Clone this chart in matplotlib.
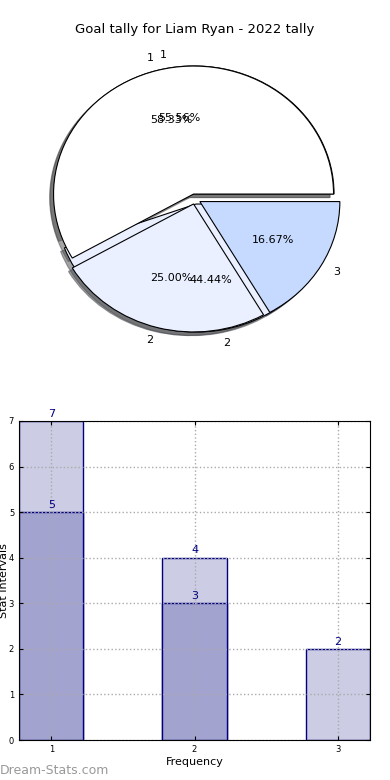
import numpy as np
import matplotlib
matplotlib.use("Agg")
import matplotlib.pyplot as plt

# pie data (two series drawn on the same axes)
pie_labels1 = ['1', '2', '3']
pie_vals1 = [7, 3, 2]
pie_labels2 = ['1', '2']
pie_vals2 = [5, 4]

# bar data
bar_x = [1, 2, 3]
bar_total = [7, 4, 2]
bar_x2 = [1, 2]
bar_part = [5, 3]

fig = plt.figure(figsize=(3.9, 7.8), dpi=100)

# --- pie ---
ax1 = fig.add_axes([20 / 390, 1 - 359 / 780, 350 / 390, 320 / 780])
ax1.pie(pie_vals2, labels=pie_labels2, colors=['white', '#EAF0FF'],
        autopct='%.2f%%', shadow=True, explode=[0.04, 0.04],
        wedgeprops=dict(edgecolor='black', linewidth=0.8),
        textprops=dict(fontsize=8))
ax1.pie(pie_vals1, labels=pie_labels1, colors=['white', '#EAF0FF', '#C6D9FF'],
        autopct='%.2f%%', shadow=True, explode=[0.04, 0.04, 0.04],
        wedgeprops=dict(edgecolor='black', linewidth=0.8),
        textprops=dict(fontsize=8))
ax1.set_aspect('auto')
ax1.set_xlim(-1.25, 1.25)
ax1.set_ylim(-1.25, 1.25)
fig.text(0.5, 1 - 30 / 780, 'Goal tally for Liam Ryan - 2022 tally',
         ha='center', va='center', fontsize=9.5)

# --- bars ---
ax2 = fig.add_axes([19 / 390, 40 / 780, 351 / 390, 319 / 780])
w = 0.45
ax2.bar(bar_x, bar_total, width=w, color='#CCCCE4', edgecolor='#000080', linewidth=1)
ax2.bar(bar_x2, bar_part, width=w, color='#A3A3D0', edgecolor='#000080', linewidth=1)
for x, v in zip(bar_x, bar_total):
    ax2.text(x, v + 0.05, str(v), ha='center', va='bottom', color='#000080', fontsize=8)
for x, v in zip(bar_x2, bar_part):
    ax2.text(x, v + 0.05, str(v), ha='center', va='bottom', color='#000080', fontsize=8)
ax2.set_xlim(1 - w / 2, 3 + w / 2)
ax2.set_ylim(0, 7)
ax2.set_xticks(bar_x)
ax2.set_yticks(range(0, 8))
ax2.tick_params(labelsize=6, direction='in', top=True, right=True, length=3)
ax2.grid(True, linestyle=':', color='#aaaaaa', linewidth=1)
ax2.set_axisbelow(False)
for sp in ax2.spines.values():
    sp.set_zorder(5)
ax2.set_xlabel('Frequency', fontsize=8, labelpad=2)
ax2.set_ylabel('Stat Intervals', fontsize=8)
ax2.yaxis.set_label_coords(-10 / 351, 0.5)

fig.text(0.0, 1 - 770 / 780, 'Dream-Stats.com', color='#999999', fontsize=9,
         ha='left', va='center')

plt.savefig('out.png', dpi=100)
